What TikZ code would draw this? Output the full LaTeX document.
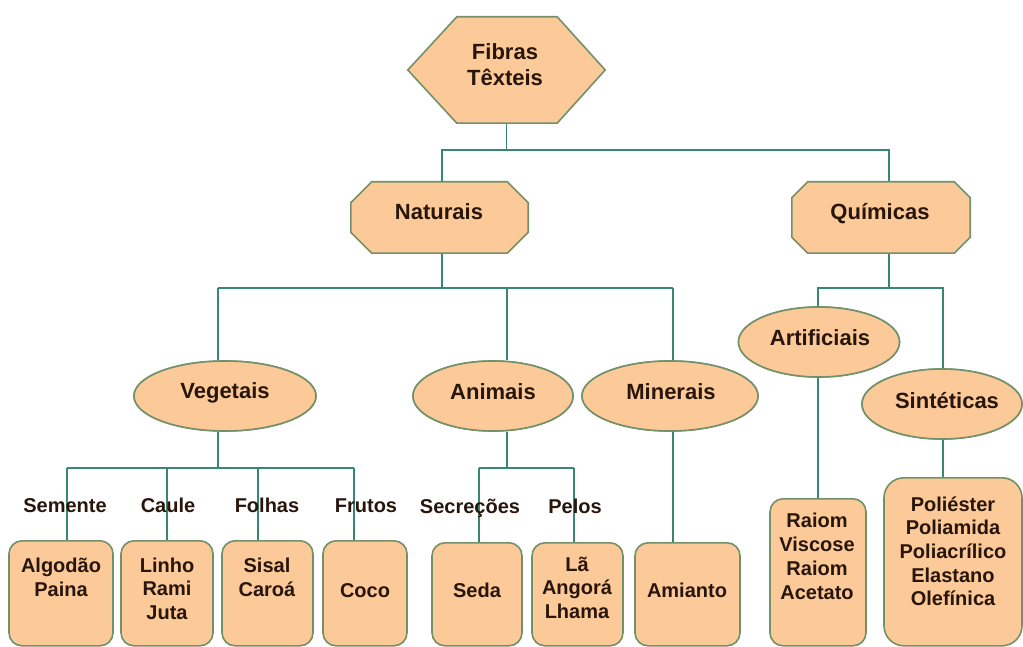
\documentclass[tikz,border=0pt]{standalone}
\usepackage{fontspec}
\setmainfont{Liberation Sans}
\usetikzlibrary{shapes.geometric}
\definecolor{fillc}{RGB}{252,201,152}
\definecolor{edgec}{RGB}{115,145,105}
\definecolor{linec}{RGB}{55,135,115}
\definecolor{txtc}{RGB}{40,22,12}
\newcommand{\mlines}[1]{\begin{tabular}[t]{@{}c@{}}#1\end{tabular}}
\begin{document}
\begin{tikzpicture}[x=1pt,y=-1pt,
  shp/.style={draw=edgec, fill=fillc, line width=1.6pt},
  ell/.style={shp, ellipse, inner sep=0pt, minimum height=70pt},
  rbox/.style={shp, rectangle, rounded corners=13pt, inner sep=0pt, anchor=north, minimum height=105pt},
  frame/.style={rectangle, inner sep=0pt},
  conn/.style={draw=linec, line width=1.4pt},
  lbl/.style={inner sep=0pt, anchor=base, text=txtc, font=\fontsize{20}{24}\selectfont\bfseries},
  head/.style={lbl, font=\fontsize{22}{26}\selectfont\bfseries}
]
\useasboundingbox[fill=white] (0,0) rectangle (1023,647);

% ---------- frames for polygon shapes
\node[frame, minimum width=197pt, minimum height=106pt] (fib) at (506.5,70) {};
\node[frame, minimum width=177pt, minimum height=71pt] (nat) at (439.5,217.5) {};
\node[frame, minimum width=178pt, minimum height=71pt] (qui) at (881,217.5) {};

% ---------- ellipses
\node[ell, minimum width=182pt] (veg) at (225,396) {};
\node[ell, minimum width=160pt] (ani) at (493,396) {};
\node[ell, minimum width=176pt] (min) at (670,396) {};
\node[ell, minimum width=161pt] (art) at (819,342) {};
\node[ell, minimum width=160pt] (sin) at (942,404) {};

% ---------- leaf boxes
\node[rbox, minimum width=104pt] (alg) at (61,540) {};
\node[rbox, minimum width=92pt] (lin) at (167,540) {};
\node[rbox, minimum width=91pt] (sis) at (267.5,540) {};
\node[rbox, minimum width=84pt] (coc) at (365,540) {};
\node[rbox, minimum width=90pt, minimum height=103pt] (sed) at (477,542) {};
\node[rbox, minimum width=91pt, minimum height=103pt] (la) at (577.5,542) {};
\node[rbox, minimum width=105pt, minimum height=103pt] (ami) at (687.5,542) {};
\node[rbox, minimum width=96pt, minimum height=147pt] (ray) at (818,498) {};
\node[rbox, minimum width=138pt, minimum height=168pt, rounded corners=20pt] (pol) at (953,477) {};

% ---------- bus coordinates
\coordinate (yT) at (0,150);
\coordinate (yN) at (0,288);
\coordinate (yV) at (0,468);
\coordinate (xN) at (442,0);
\coordinate (xQ) at (889,0);
\coordinate (xV) at (218,0);
\coordinate (xA) at (507,0);
\coordinate (xM) at (673,0);
\coordinate (xR) at (818,0);
\coordinate (xS) at (943,0);
\coordinate (v1) at (67,468);
\coordinate (v2) at (167,468);
\coordinate (v3) at (258,468);
\coordinate (v4) at (354,468);
\coordinate (a1) at (479,468);
\coordinate (a2) at (574,468);

% ---------- connectors
\draw[conn] (fib.south) -- (fib.south |- yT);
\draw[conn] (nat.north -| xN) -- (yT -| xN) -- (yT -| xQ) -- (qui.north -| xQ);
\draw[conn] (nat.south -| xN) -- (yN -| xN);
\draw[conn] (yN -| xV) -- (yN -| xM);
\draw[conn] (yN -| xV) -- (veg.north -| xV);
\draw[conn] (yN -| xA) -- (ani.north -| xA);
\draw[conn] (yN -| xM) -- (min.north -| xM);
\draw[conn] (qui.south -| xQ) -- (yN -| xQ);
\draw[conn] (art.north -| xR) -- (yN -| xR) -- (yN -| xS) -- (sin.north -| xS);
\draw[conn] (veg.south -| xV) -- (yV -| xV);
\draw[conn] (v1) -- (v4);
\draw[conn] (v1) -- (v1 |- alg.north);
\draw[conn] (v2) -- (v2 |- lin.north);
\draw[conn] (v3) -- (v3 |- sis.north);
\draw[conn] (v4) -- (v4 |- coc.north);
\draw[conn] (ani.south -| xA) -- (yV -| xA);
\draw[conn] (a1) -- (a2);
\draw[conn] (a1) -- (a1 |- sed.north);
\draw[conn] (a2) -- (a2 |- la.north);
\draw[conn] (min.south -| xM) -- (ami.north -| xM);
\draw[conn] (art.south -| xR) -- (ray.north -| xR);
\draw[conn] (sin.south -| xS) -- (pol.north -| xS);

% ---------- polygon shapes
\draw[shp] ([xshift=49pt]fib.north west) -- ([xshift=-48pt]fib.north east) -- (fib.east)
  -- ([xshift=-48pt]fib.south east) -- ([xshift=49pt]fib.south west) -- (fib.west) -- cycle;
\draw[shp] ([xshift=21pt]nat.north west) -- ([xshift=-21pt]nat.north east) -- ([yshift=-21pt]nat.north east)
  -- ([yshift=21pt]nat.south east) -- ([xshift=-21pt]nat.south east) -- ([xshift=21pt]nat.south west)
  -- ([yshift=21pt]nat.south west) -- ([yshift=-21pt]nat.north west) -- cycle;
\draw[shp] ([xshift=16pt]qui.north west) -- ([xshift=-16pt]qui.north east) -- ([yshift=-16pt]qui.north east)
  -- ([yshift=16pt]qui.south east) -- ([xshift=-16pt]qui.south east) -- ([xshift=16pt]qui.south west)
  -- ([yshift=16pt]qui.south west) -- ([yshift=-16pt]qui.north west) -- cycle;
% redraw ellipses on top of connector ends
\node[ell, minimum width=182pt] at (veg) {};
\node[ell, minimum width=160pt] at (ani) {};
\node[ell, minimum width=176pt] at (min) {};
\node[ell, minimum width=161pt] at (art) {};
\node[ell, minimum width=160pt] at (sin) {};

% ---------- texts
\node[head] (fibT) at (505,60) {\mlines{Fibras\\Têxteis}};
\node[head] (natT) at (439,220) {Naturais};
\node[head] (quiT) at (880,220) {Químicas};
\node[head] (vegT) at (225,398) {Vegetais};
\node[head] (aniT) at (493,399) {Animais};
\node[head] (minT) at (671,399) {Minerais};
\node[head] (artT) at (820,345) {Artificiais};
\node[head] (sinT) at (947,408) {Sintéticas};

\node[lbl] (semL) at (65,512) {Semente};
\node[lbl] (cauL) at (168,512) {Caule};
\node[lbl] (folL) at (267,512) {Folhas};
\node[lbl] (fruL) at (366,512) {Frutos};
\node[lbl] (secL) at (470,513) {Secreções};
\node[lbl] (pelL) at (575,513) {Pelos};

\node[lbl] (algT) at (61,572) {\mlines{Algodão\\Paina}};
\node[lbl, font=\fontsize{20}{23.5}\selectfont\bfseries] (linT) at (167,572) {\mlines{Linho\\Rami\\Juta}};
\node[lbl] (sisT) at (267,572) {\mlines{Sisal\\Caroá}};
\node[lbl] (cocT) at (365,597) {Coco};
\node[lbl] (sedT) at (477,597) {Seda};
\node[lbl, font=\fontsize{20}{23.5}\selectfont\bfseries] (laT) at (577,571) {\mlines{Lã\\Angorá\\Lhama}};
\node[lbl] (amiT) at (687,597) {Amianto};
\node[lbl, font=\fontsize{20}{24.3}\selectfont\bfseries] (rayT) at (817,527) {\mlines{Raiom\\Viscose\\Raiom\\Acetato}};
\node[lbl, font=\fontsize{20}{23.7}\selectfont\bfseries] (polT) at (953,511) {\mlines{Poliéster\\Poliamida\\Poliacrílico\\Elastano\\Olefínica}};
\end{tikzpicture}
\end{document}
